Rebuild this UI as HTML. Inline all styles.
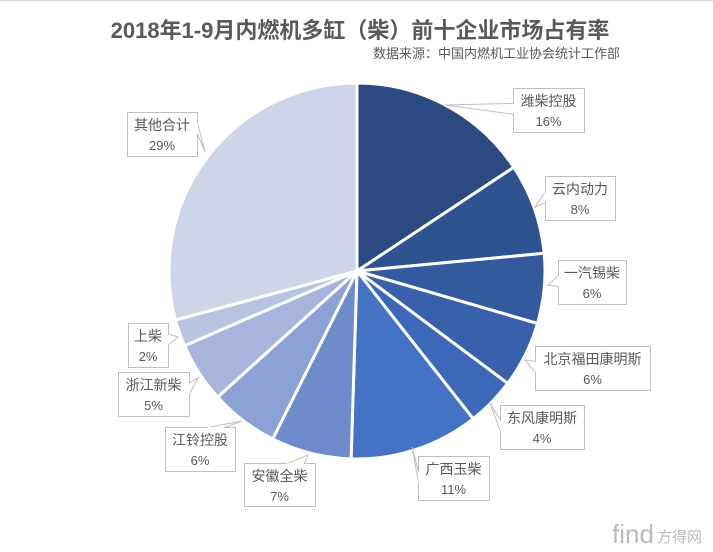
<!DOCTYPE html>
<html><head><meta charset="utf-8"><style>
html,body{margin:0;padding:0;background:#fff;}
svg{display:block;font-family:"Liberation Sans","Noto Sans CJK SC",sans-serif;}
</style></head><body>
<svg id="s" width="713" height="552" viewBox="0 0 713 552" xmlns="http://www.w3.org/2000/svg">
<rect x="0" y="0" width="713" height="552" fill="#fff"/>
<line x1="0" y1="0.5" x2="713" y2="0.5" stroke="#d9d9d9" stroke-width="1"/>
<text x="360" y="38" text-anchor="middle" font-size="22" font-weight="bold" fill="#595959">2018年1-9月内燃机多缸（柴）前十企业市场占有率</text>
<text x="620" y="58" text-anchor="end" font-size="13" fill="#595959">数据来源：中国内燃机工业协会统计工作部</text>
<g id="pie"></g>
<g id="lab" font-size="14" fill="#595959"></g>
<text x="612" y="543" font-size="26" fill="#bbb" font-family="Liberation Sans,sans-serif">find</text>
<text x="657" y="542" font-size="15" fill="#bbb">方得网</text>
</svg>
<script>
var cx=357,cy=271,r=188;
var b=[0,15.7,23.5,29.5,35.2,39.4,50.5,57.4,63.3,68.5,70.8,100];
var col=["#2c4a82","#2f5291","#33599f","#3960ab","#3d67b9","#4472c4","#6f8bcb","#8ca1d4","#a7b5dc","#b8c3e2","#ced5e9"];
var g=document.getElementById('pie'),h='';
function pt(p){var a=p/100*2*Math.PI;return [cx+r*Math.sin(a),cy-r*Math.cos(a)];}
for(var i=0;i<11;i++){var p1=pt(b[i]),p2=pt(b[i+1]);var lg=(b[i+1]-b[i])>50?1:0;
h+='<path d="M'+cx+','+cy+' L'+p1[0].toFixed(1)+','+p1[1].toFixed(1)+' A'+r+','+r+' 0 '+lg+' 1 '+p2[0].toFixed(1)+','+p2[1].toFixed(1)+' Z" fill="'+col[i]+'" stroke="#fff" stroke-width="3" stroke-linejoin="round"/>';}
g.innerHTML=h;
var L=[["潍柴控股","16%",513,88,71,44,445,105,"l"],["云内动力","8%",545,176,70,44,535,207,"l"],["一汽锡柴","6%",558,260,68,44,548,285,"l"],["北京福田康明斯","6%",535,346,115,44,525,360,"l"],["东风康明斯","4%",500,405,84,44,490,403,"l"],["广西玉柴","11%",418,456,71,44,412,447,"l"],["安徽全柴","7%",244,463,71,43,308,455,"t"],["江铃控股","6%",165,427,70,44,242,421,"t"],["浙江新柴","5%",118,372,71,44,198,378,"r"],["上柴","2%",128,323,40,44,178,337,"r"],["其他合计","29%",127,112,70,44,205,152,"r"]];
var lh='';
L.forEach(function(l){var x=l[2],y=l[3],w=l[4],hh=l[5],tx=l[6],ty=l[7],s=l[8];
lh+='<rect x="'+x+'.5" y="'+y+'.5" width="'+w+'" height="'+hh+'" fill="#fff" stroke="#bfbfbf"/>';
var a,c;
if(s=="l"){a=[x+0.5,y+hh*0.35];c=[x+0.5,y+hh*0.6];}
else if(s=="r"){a=[x+w+0.5,y+hh*0.25];c=[x+w+0.5,y+hh*0.5];}
else {a=[x+w*0.6,y+0.5];c=[x+w*0.85,y+0.5];}
lh+='<polygon points="'+a+' '+tx+','+ty+' '+c+'" fill="#fff" stroke="#bfbfbf"/>';
if(s=="l"){lh+='<line x1="'+(x+0.5)+'" y1="'+(a[1]+0.5)+'" x2="'+(x+0.5)+'" y2="'+(c[1]-0.5)+'" stroke="#fff" stroke-width="1.2"/>';}
else if(s=="r"){lh+='<line x1="'+(x+w+0.5)+'" y1="'+(a[1]+0.5)+'" x2="'+(x+w+0.5)+'" y2="'+(c[1]-0.5)+'" stroke="#fff" stroke-width="1.2"/>';}
else {lh+='<line x1="'+(a[0]+0.5)+'" y1="'+(y+0.5)+'" x2="'+(c[0]-0.5)+'" y2="'+(y+0.5)+'" stroke="#fff" stroke-width="1.2"/>';}
lh+='<text x="'+(x+w/2)+'" y="'+(y+18)+'" text-anchor="middle">'+l[0]+'</text>';
lh+='<text x="'+(x+w/2)+'" y="'+(y+38)+'" text-anchor="middle" font-size="13">'+l[1]+'</text>';});
document.getElementById('lab').innerHTML=lh;
</script>
</body></html>
